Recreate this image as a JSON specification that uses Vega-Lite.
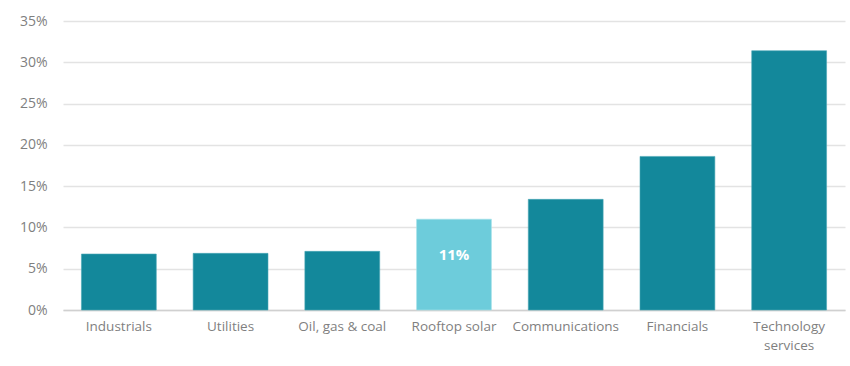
{
  "$schema": "https://vega.github.io/schema/vega-lite/v6.json",
  "width": 782,
  "height": 289,
  "autosize": {"type": "none"},
  "padding": {"left": 63, "top": 21, "right": 5, "bottom": 56},
  "background": "white",
  "config": {
    "view": {"stroke": null},
    "font": "Open Sans"
  },
  "data": {
    "values": [
      {"sector": "Industrials", "share": 0.0678, "highlight": "no", "label": ""},
      {"sector": "Utilities", "share": 0.0686, "highlight": "no", "label": ""},
      {"sector": "Oil, gas & coal", "share": 0.071, "highlight": "no", "label": ""},
      {"sector": "Rooftop solar", "share": 0.11, "highlight": "yes", "label": "11%"},
      {"sector": "Communications", "share": 0.134, "highlight": "no", "label": ""},
      {"sector": "Financials", "share": 0.186, "highlight": "no", "label": ""},
      {"sector": "Technology services", "share": 0.314, "highlight": "no", "label": ""}
    ]
  },
  "encoding": {
    "x": {
      "field": "sector",
      "type": "nominal",
      "sort": null,
      "scale": {"paddingInner": 0.33, "paddingOuter": 0.165},
      "axis": {
        "title": null,
        "labelAngle": 0,
        "labelColor": "#7f7f7f",
        "labelFontSize": 13.5,
        "labelPadding": 9,
        "ticks": false,
        "domainColor": "#d0d0d0",
        "domainWidth": 1.5,
        "labelExpr": "datum.label == 'Technology services' ? ['Technology', 'services'] : datum.label",
        "labelLineHeight": 19
      }
    },
    "y": {
      "field": "share",
      "type": "quantitative",
      "scale": {"domain": [0, 0.35]},
      "axis": {
        "title": null,
        "format": ".0%",
        "values": [0, 0.05, 0.1, 0.15, 0.2, 0.25, 0.3, 0.35],
        "labelOverlap": false,
        "domain": false,
        "ticks": false,
        "labelColor": "#7f7f7f",
        "labelFontSize": 14,
        "labelPadding": 16,
        "gridColor": "#e3e3e3",
        "gridWidth": 1.5
      }
    }
  },
  "layer": [
    {
      "mark": {"type": "bar", "strokeWidth": 1, "strokeOpacity": 0.6},
      "encoding": {
        "color": {
          "field": "highlight",
          "type": "nominal",
          "scale": {"domain": ["no", "yes"], "range": ["#13889B", "#6DCCDB"]},
          "legend": null
        },
        "stroke": {
          "field": "highlight",
          "type": "nominal",
          "scale": {"domain": ["no", "yes"], "range": ["#4aa7b5", "#a6e2ea"]},
          "legend": null
        }
      }
    },
    {
      "mark": {"type": "text", "color": "white", "fontWeight": "bold", "fontSize": 15, "baseline": "middle", "dy": 36},
      "encoding": {
        "text": {"field": "label"}
      }
    }
  ]
}
